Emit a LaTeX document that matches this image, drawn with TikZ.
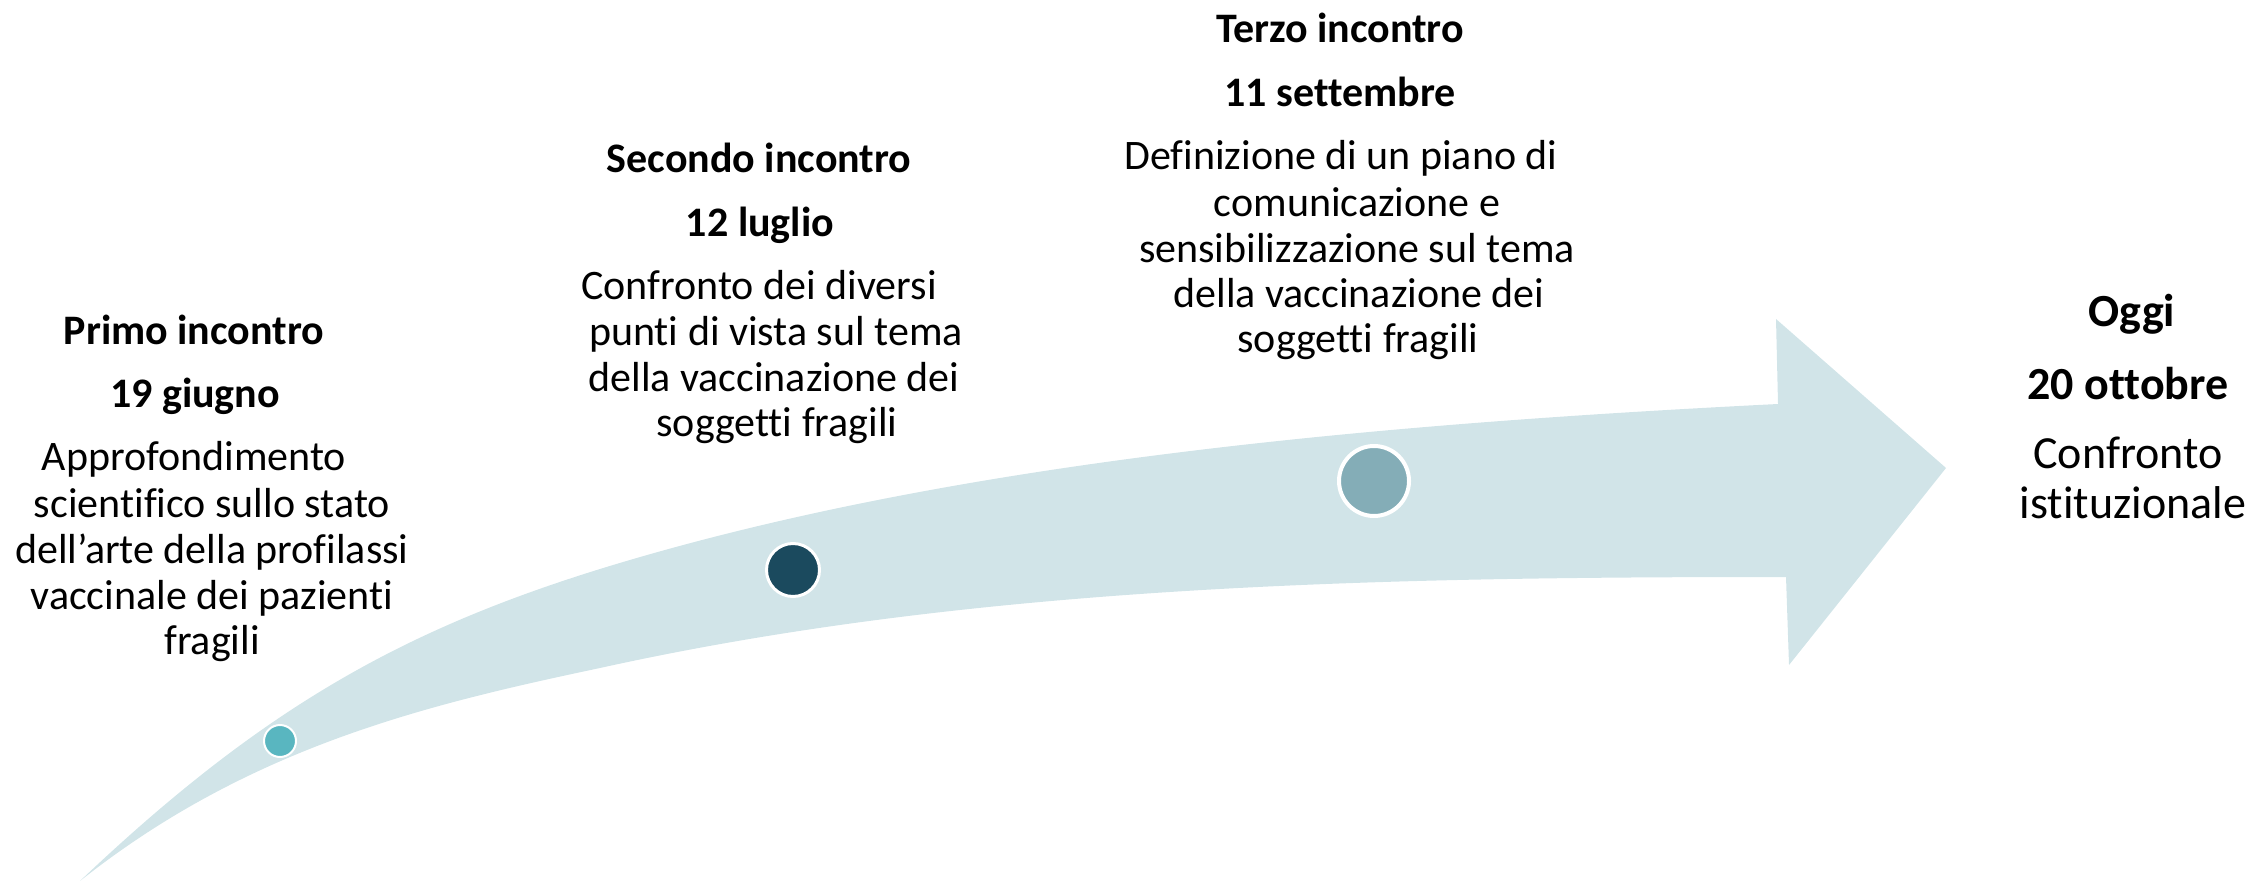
\documentclass[tikz,border=0pt]{standalone}
\usepackage{fontspec}
\setmainfont{Carlito}[Ligatures={NoCommon}]
\definecolor{bandfill}{HTML}{D1E4E8}
\definecolor{dotone}{HTML}{59B6C0}
\definecolor{dottwo}{HTML}{1B4A5E}
\definecolor{dotthree}{HTML}{84ADB7}
\tikzset{
  headtxt/.style={font=\fontsize{21}{25}\selectfont\bfseries, anchor=base, inner sep=0pt},
  bodytxt/.style={font=\fontsize{21}{25}\selectfont, anchor=base, inner sep=0pt},
  headbig/.style={font=\fontsize{23}{27}\selectfont\bfseries, anchor=base, inner sep=0pt},
  bodybig/.style={font=\fontsize{23}{27}\selectfont, anchor=base, inner sep=0pt},
  dot/.style={circle, draw=white, inner sep=0pt}
}
\begin{document}
\begin{tikzpicture}[x=0.5pt, y=-0.5pt]
\useasboundingbox (0,0) rectangle (2257,881);
% curved arrow
\fill[bandfill] (80,881) .. controls (260,710) and (400,631) .. (600,569)
  .. controls (950,461) and (1378,424) .. (1778,404)
  -- (1776,319) -- (1946,468) -- (1789,665) -- (1786,577)
  .. controls (1386,577) and (980,584) .. (600,668)
  .. controls (430,704) and (250,746) .. (80,881) -- cycle;
% dots
\node[dot, fill=dotone, minimum size=16pt, line width=1pt] (d1) at (280,741) {};
\node[dot, fill=dottwo, minimum size=26.5pt, line width=1.5pt] (d2) at (793,570) {};
\node[dot, fill=dotthree, minimum size=35pt, line width=2pt] (d3) at (1374,481) {};
% group 1
\node[headtxt] (h1) at (194,345) {Primo incontro};
\node[headtxt] (g1) at (195,408) {19 giugno};
\node[bodytxt] (a1) at (194,471) {Approfondimento};
\node[bodytxt] (a2) at (212,517) {scientifico sullo stato};
\node[bodytxt] (a3) at (212,563) {dell’arte della profilassi};
\node[bodytxt] (a4) at (212,609) {vaccinale dei pazienti};
\node[bodytxt] (a5) at (212,654) {fragili};
% group 2
\node[headtxt] (h2) at (759,173) {Secondo incontro};
\node[headtxt] (g2) at (760,237) {12 luglio};
\node[bodytxt] (b1) at (759,300) {Confronto dei diversi};
\node[bodytxt] (b2) at (776,346) {punti di vista sul tema};
\node[bodytxt] (b3) at (774,392) {della vaccinazione dei};
\node[bodytxt] (b4) at (777,437) {soggetti fragili};
% group 3
\node[headtxt] (h3) at (1340,43) {Terzo incontro};
\node[headtxt] (g3) at (1340,107) {11 settembre};
\node[bodytxt] (c1) at (1341,170) {Definizione di un piano di};
\node[bodytxt] (c2) at (1357,217) {comunicazione e};
\node[bodytxt] (c3) at (1357,263) {sensibilizzazione sul tema};
\node[bodytxt] (c4) at (1359,308) {della vaccinazione dei};
\node[bodytxt] (c5) at (1358,353) {soggetti fragili};
% group 4
\node[headbig] (h4) at (2132,327) {Oggi};
\node[headbig] (g4) at (2128,400) {20 ottobre};
\node[bodybig] (e1) at (2128,468) {Confronto};
\node[bodybig] (e2) at (2133,518) {istituzionale};
\end{tikzpicture}
\end{document}
